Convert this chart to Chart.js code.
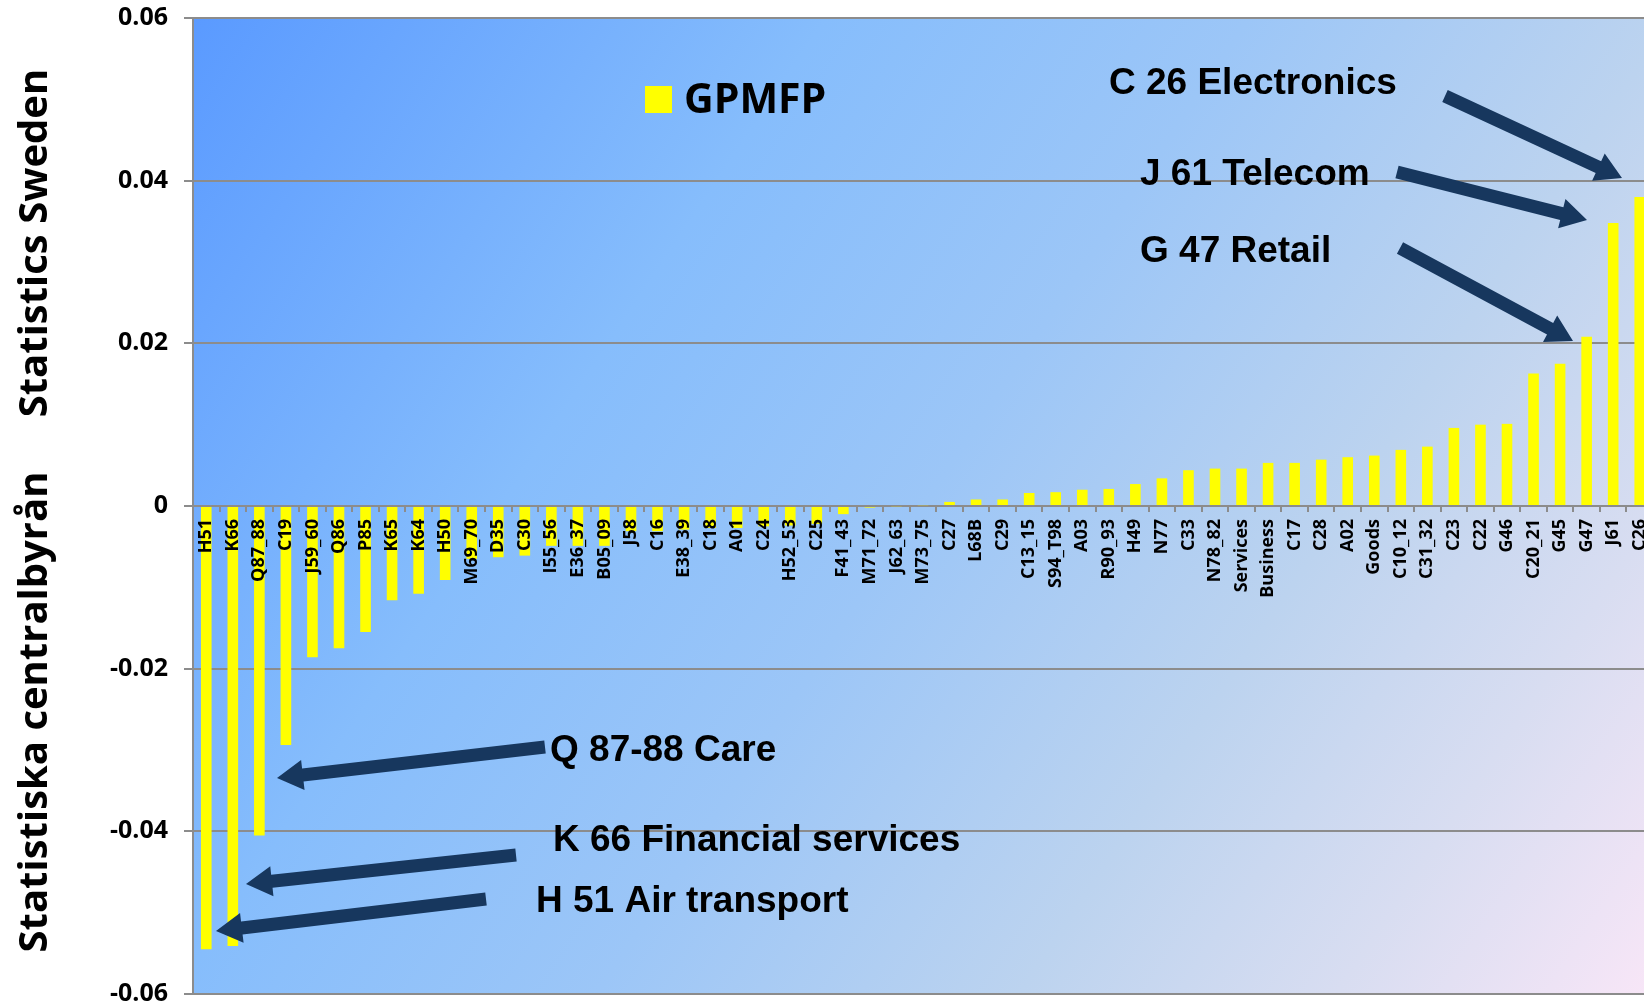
<!DOCTYPE html>
<html>
<head>
<meta charset="utf-8">
<script src="https://cdn.jsdelivr.net/npm/chart.js@4.4.1/dist/chart.umd.min.js"></script>
<style>
    html, body { margin: 0; padding: 0; background: #fff; overflow: hidden; }
    #wrap { width: 1644px; height: 1005px; overflow: hidden; }
</style>
</head>
<body>
<div id="wrap"><canvas id="myChart" width="1700" height="1005"></canvas></div>
<script>

// industries, sorted by GPMFP
const sectors = ['H51', 'K66', 'Q87_88', 'C19', 'J59_60', 'Q86', 'P85', 'K65', 'K64', 'H50',
    'M69_70', 'D35', 'C30', 'I55_56', 'E36_37', 'B05_09', 'J58', 'C16', 'E38_39', 'C18',
    'A01', 'C24', 'H52_53', 'C25', 'F41_43', 'M71_72', 'J62_63', 'M73_75', 'C27', 'L68B',
    'C29', 'C13_15', 'S94_T98', 'A03', 'R90_93', 'H49', 'N77', 'C33', 'N78_82', 'Services',
    'Business', 'C17', 'C28', 'A02', 'Goods', 'C10_12', 'C31_32', 'C23', 'C22', 'G46',
    'C20_21', 'G45', 'G47', 'J61', 'C26'];

const gpmfp = [-0.0545, -0.0541, -0.0405, -0.0294, -0.0186, -0.0175, -0.0155, -0.0116, -0.0108, -0.0091,
    -0.0065, -0.0063, -0.0061, -0.0049, -0.0049, -0.0049, -0.0031, -0.0031, -0.0029, -0.0027,
    -0.0027, -0.0025, -0.0024, -0.0022, -0.0010, -0.0002, -0.0001, 0.0001, 0.0005, 0.0008,
    0.0008, 0.0016, 0.0017, 0.0020, 0.0021, 0.0027, 0.0034, 0.0044, 0.0046, 0.0046,
    0.0053, 0.0053, 0.0057, 0.0060, 0.0062, 0.0069, 0.0073, 0.0096, 0.0100, 0.0101,
    0.0163, 0.0175, 0.0208, 0.0348, 0.0380];

const yTicks = [-0.06, -0.04, -0.02, 0, 0.02, 0.04, 0.06];

// callout texts with their arrows (pixel positions on the slide)
const callouts = [
    { text: 'C 26 Electronics', x: 1109, y: 84, from: [1445, 96], to: [1622, 178] },
    { text: 'J 61 Telecom', x: 1140, y: 175, from: [1397, 172], to: [1587, 220] },
    { text: 'G 47 Retail', x: 1140, y: 252, from: [1400, 248], to: [1573, 341] },
    { text: 'Q 87-88 Care', x: 550, y: 751, from: [545, 747], to: [277, 778] },
    { text: 'K 66 Financial services', x: 553, y: 841, from: [516, 855], to: [246, 884] },
    { text: 'H 51 Air transport', x: 536, y: 902, from: [486, 899], to: [216, 931] }
];

const gridGray = '#8c8c8c';
const arrowBlue = '#17375e';

function drawArrow(ctx, from, to) {
    var dx = to[0] - from[0], dy = to[1] - from[1];
    var len = Math.sqrt(dx * dx + dy * dy);
    var ux = dx / len, uy = dy / len;
    var px = -uy, py = ux;
    var shaft = 6.5, head = 15, headLen = 26;
    var bx = to[0] - ux * headLen, by = to[1] - uy * headLen;

    ctx.beginPath();
    ctx.moveTo(from[0] + px * shaft, from[1] + py * shaft);
    ctx.lineTo(bx + px * shaft, by + py * shaft);
    ctx.lineTo(bx + px * head, by + py * head);
    ctx.lineTo(to[0], to[1]);
    ctx.lineTo(bx - px * head, by - py * head);
    ctx.lineTo(bx - px * shaft, by - py * shaft);
    ctx.lineTo(from[0] - px * shaft, from[1] - py * shaft);
    ctx.closePath();
    ctx.fillStyle = arrowBlue;
    ctx.fill();
}

const slidePlugin = {
    id: 'slide',
    beforeDraw(chart) {
        var ctx = chart.ctx, a = chart.chartArea;
        var g = ctx.createLinearGradient(a.left, a.top, a.right, a.bottom);
        g.addColorStop(0, '#5a9aff');
        g.addColorStop(0.3, '#86bdfc');
        g.addColorStop(0.5, '#9cc6f7');
        g.addColorStop(0.7, '#bcd3ef');
        g.addColorStop(0.85, '#d8ddf1');
        g.addColorStop(1, '#f8e6f7');
        ctx.save();
        ctx.fillStyle = g;
        ctx.fillRect(a.left, a.top, a.right - a.left, a.bottom - a.top);
        ctx.restore();
    },
    afterDraw(chart) {
        var ctx = chart.ctx;
        var ds = chart.data.datasets[0];
        ctx.save();

        // legend
        ctx.fillStyle = ds.backgroundColor;
        ctx.fillRect(645, 86, 27, 27);
        ctx.fillStyle = '#000';
        ctx.font = 'bold 41px "Open Sans"';
        ctx.textBaseline = 'middle';
        ctx.textAlign = 'left';
        ctx.fillText(ds.label, 684, 101);

        // callouts
        ctx.font = 'bold 37px "Liberation Sans"';
        callouts.forEach(function (c) {
            drawArrow(ctx, c.from, c.to);
            ctx.fillStyle = '#000';
            ctx.fillText(c.text, c.x, c.y);
        });

        // vertical watermark titles
        ctx.fillStyle = '#000';
        ctx.font = 'bold 40px "Open Sans"';
        ctx.textAlign = 'center';
        ctx.textBaseline = 'alphabetic';
        [['Statistics Sweden', 243], ['Statistiska centralbyrån', 712]].forEach(function (t) {
            ctx.save();
            ctx.translate(47, t[1]);
            ctx.rotate(-Math.PI / 2);
            ctx.fillText(t[0], 0, 0);
            ctx.restore();
        });
        ctx.restore();
    }
};

var ctx = document.getElementById('myChart').getContext('2d');
var gpmfpChart = new Chart(ctx, {
    type: 'bar',
    data: {
        labels: sectors,
        datasets: [{
            label: 'GPMFP',
            data: gpmfp,
            backgroundColor: '#ffff00',
            barPercentage: 0.4,
            categoryPercentage: 1
        }]
    },
    options: {
        responsive: false,
        animation: false,
        layout: { padding: { top: 18, right: 47, bottom: 11, left: 0 } },
        plugins: { legend: { display: false }, tooltip: { enabled: false } },
        scales: {
            x: {
                position: { y: 0 },
                afterFit(scale) { scale.paddingLeft = 0; scale.paddingRight = 0; },
                grid: { offset: true, drawOnChartArea: false, tickLength: 5, color: gridGray, lineWidth: 2 },
                border: { color: gridGray, width: 2 },
                ticks: {
                    z: 1,
                    autoSkip: false, minRotation: 90, maxRotation: 90, padding: 8,
                    color: '#000', font: { family: 'Open Sans', weight: 'bold', size: 18 }
                }
            },
            y: {
                min: yTicks[0],
                max: yTicks[yTicks.length - 1],
                afterBuildTicks(scale) {
                    scale.ticks = yTicks.map(function (v) { return { value: v }; });
                },
                afterFit(scale) {
                    scale.width = 193;
                    scale.paddingTop = 0;
                    scale.paddingBottom = 0;
                },
                grid: { color: gridGray, lineWidth: 2, tickLength: 9 },
                border: { color: gridGray, width: 2 },
                ticks: {
                    padding: 16, color: '#000',
                    font: { family: 'Open Sans', weight: 'bold', size: 25 },
                    callback: function (v) { return v === 0 ? '0' : v.toFixed(2); }
                }
            }
        }
    },
    plugins: [slidePlugin]
});
</script>
</body>
</html>
